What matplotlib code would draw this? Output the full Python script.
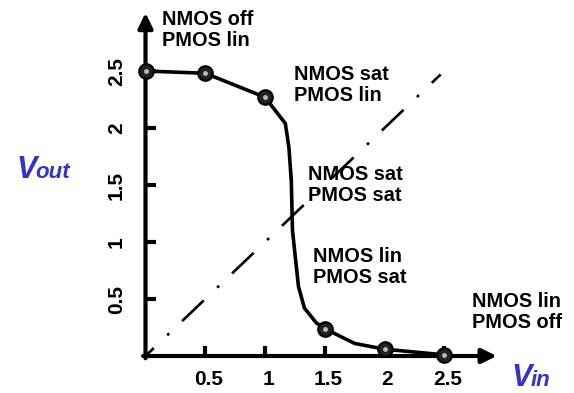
import matplotlib.pyplot as plt
from matplotlib.transforms import ScaledTranslation

# inverter transfer curve, Vout vs Vin
vin = [0.0, 0.5, 1.0, 1.17, 1.20, 1.22, 1.23, 1.28, 1.33, 1.43, 1.5, 1.75, 2.0, 2.5]
vout = [2.5, 2.48, 2.27, 2.04, 1.83, 1.54, 1.10, 0.61, 0.42, 0.29, 0.24, 0.11, 0.06, 0.01]

# measured points (markers)
pts_x = [0.0, 0.5, 1.0, 1.5, 2.0, 2.5]
pts_y = [2.5, 2.48, 2.27, 0.24, 0.06, 0.01]

# Vin = Vout reference line
ref_x = [0.0, 2.47]
ref_y = [0.0, 2.47]

ticks = [0.5, 1, 1.5, 2, 2.5]
tick_labels = ['0.5', '1', '1.5', '2', '2.5']

regions = [
    ('NMOS off\nPMOS lin', 0.138, 3.035),
    ('NMOS sat\nPMOS lin', 1.243, 2.553),
    ('NMOS sat\nPMOS sat', 1.360, 1.675),
    ('NMOS lin\nPMOS sat', 1.402, 0.956),
    ('NMOS lin\nPMOS off', 2.732, 0.561),
]

plt.rcParams['font.family'] = 'Liberation Sans'
plt.rcParams['lines.scale_dashes'] = False

W, H = 574, 393
fig = plt.figure(figsize=(W / 100, H / 100), dpi=100)
ax = fig.add_axes([145.5 / W, 37 / H, 358.5 / W, 342 / H])
ax.set_xlim(0, 3)
ax.set_ylim(0, 3)
for s in ax.spines.values():
    s.set_visible(False)

# axes with arrow heads
arrow = dict(arrowstyle='-|>,head_length=0.45,head_width=0.22', mutation_scale=20,
             lw=3, color='black', shrinkA=0, shrinkB=0)
ax.annotate('', xy=(2.94, 0), xytext=(-0.02, 0), arrowprops=arrow, annotation_clip=False)
ax.annotate('', xy=(0, 3.01), xytext=(0, -0.02), arrowprops=arrow, annotation_clip=False)

ax.set_xticks(ticks)
ax.set_xticklabels(tick_labels)
ax.set_yticks(ticks)
ax.set_yticklabels(tick_labels, rotation=90, va='center')
ax.tick_params(direction='in', length=7, width=3, labelsize=15)
ax.tick_params(axis='x', pad=10)
ax.tick_params(axis='y', pad=14)
for lab in ax.get_xticklabels() + ax.get_yticklabels():
    lab.set_fontweight('bold')
for lab in ax.get_xticklabels():
    lab.set_transform(lab.get_transform() + ScaledTranslation(0.03, 0, fig.dpi_scale_trans))

ax.plot(ref_x, ref_y, color='black', lw=1.9,
        linestyle=(13.3, (21.6, 13.3, 2.0, 12.8)), clip_on=False)
ax.plot(vin, vout, color='black', lw=2.6, clip_on=False, zorder=3)
ax.plot(pts_x, pts_y, 'o', ms=10.5, mfc='#222222', mec='black', mew=1.5,
        clip_on=False, zorder=4)
ax.plot(pts_x, pts_y, 'o', ms=3.5, mfc='#bbbbbb', mec='none', clip_on=False, zorder=5)

for txt, x, y in regions:
    ax.text(x, y, txt, ha='left', va='top', fontsize=14.4, fontweight='bold',
            linespacing=1.15)

# axis names
blue = '#3333CC'
def px_text(x, y, s, size):
    fig.text(x / W, 1 - y / H, s, color=blue, fontsize=size, fontweight='bold',
             fontstyle='italic', ha='left', va='baseline')

px_text(16, 178, 'V', 22)
px_text(35, 178, 'out', 16)
px_text(511, 386, 'V', 22)
px_text(531, 386, 'in', 16)

fig.savefig('out.png', dpi=100)
